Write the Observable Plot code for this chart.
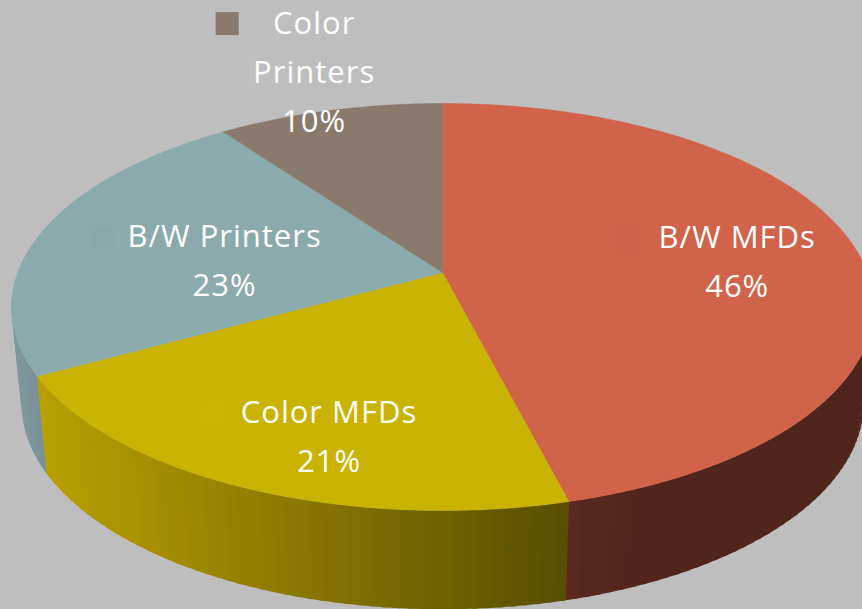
<!DOCTYPE html>
<html>
<head>
<meta charset="utf-8">
<script src="https://cdn.jsdelivr.net/npm/d3@7"></script>
<script src="https://cdn.jsdelivr.net/npm/@observablehq/plot@0.6"></script>
<style>
html,body{margin:0;padding:0;background:#bebebe;overflow:hidden}
#chart text{letter-spacing:1px}
</style>
</head>
<body>
<div id="chart"></div>
<script>
// Chart values
const categories = ["B/W MFDs", "Color MFDs", "B/W Printers", "Color Printers"];
const labelLines = ["B/W MFDs", "Color MFDs", "B/W Printers", "Color\nPrinters"];
const shares = [46, 21, 23, 10];

// Styles
const topColors = ["#d06349", "#c9b200", "#8aaaab", "#8a7a6c"];
const swatchColors = ["#cf624a", "#cbb300", "#89a8aa", "#8c796e"];
const wallRightColors = ["#50251c", "#584e00", "#7a9296", "#8a7a6c"];
const wallLeftColors = ["#5c2a20", "#b8a000", "#7e989c", "#8a7a6c"];
const wallEase = [6, 1, 1, 1];

// Label layout: radial fraction along the slice's mid angle, then a nudge, in px
const labelRadius = [0.7, 0.7, 0.7, 1.15];
const labelNudgeX = [4, 19, 65, -1];
const labelNudgeY = [1, 17, 13, -23];
const swatchOffsetX = [-110, -116, -122, -87];
const swatchOffsetY = [-18, -18, -18, -43.5];

// Perspective of the disc
const k = 0.1695;
const topFace = {a: 424.8, b: 197.7, y0: 272};
const bottomFace = {a: 415, b: 200, y0: 368};
const cx = 442;
const rad = (d) => d * Math.PI / 180;
function project(face, deg, r = 1) {
  const u = r * Math.sin(rad(deg)), v = -r * Math.cos(rad(deg));
  const den = 1 - k * v;
  return {x: cx + face.a * u / den, y: face.y0 + face.b * v / den};
}

// Slice angles from the shares
const total = d3.sum(shares);
let acc = 0;
const slices = shares.map((s, i) => {
  const start = acc / total * 360;
  acc += s;
  const end = acc / total * 360;
  return {i, start, end, mid: (start + end) / 2};
});

// Top faces
const topPoints = [];
for (const s of slices) {
  const n = Math.ceil(s.end - s.start);
  topPoints.push({...project(topFace, 0, 0), z: s.i, fill: topColors[s.i]});
  for (let j = 0; j <= n; ++j) {
    const deg = s.start + (s.end - s.start) * j / n;
    topPoints.push({...project(topFace, deg), z: s.i, fill: topColors[s.i]});
  }
  topPoints.push({...project(topFace, 0, 0), z: s.i, fill: topColors[s.i]});
}

// Side wall strips, the visible front half only; each strip overlaps the next, which paints over it
const wallFirst = 98, wallLast = 262, wallStep = 1.5, wallOverlap = 0.6;
const wallPoints = [];
let stripId = 0;
for (const s of slices) {
  const from = Math.max(s.start, wallFirst), to = Math.min(s.end, wallLast);
  if (to <= from) continue;
  const color = d3.interpolateRgb(wallRightColors[s.i], wallLeftColors[s.i]);
  const xRight = project(topFace, from).x, xLeft = project(topFace, to).x;
  const n = Math.max(1, Math.ceil((to - from) / wallStep));
  for (let j = 0; j < n; ++j) {
    const a = from + (to - from) * j / n, b = from + (to - from) * (j + 1) / n;
    const e = b + wallOverlap;
    const p = [project(topFace, a), project(topFace, e), project(bottomFace, e), project(bottomFace, a), project(topFace, a)];
    const mx = (project(topFace, a).x + project(topFace, b).x) / 2;
    const t = Math.pow((xRight - mx) / (xRight - xLeft), wallEase[s.i]);
    const fill = d3.color(color(t)).formatHex();
    for (const q of p) wallPoints.push({...q, z: stripId, fill});
    ++stripId;
  }
}

// Labels
const labels = slices.map((s) => {
  const p = project(topFace, s.mid, labelRadius[s.i]);
  const x = p.x + labelNudgeX[s.i], y = p.y + labelNudgeY[s.i];
  return {
    x, y,
    text: labelLines[s.i] + "\n" + shares[s.i] + "%",
    sx: x + swatchOffsetX[s.i],
    sy: y + swatchOffsetY[s.i],
    swatch: swatchColors[s.i],
    category: categories[s.i]
  };
});

const chart = Plot.plot({
  width: 862,
  height: 609,
  margin: 0,
  x: {domain: [0, 862], range: [0, 862], axis: null},
  y: {domain: [0, 609], range: [0, 609], axis: null},
  color: {type: "identity"},
  style: {background: "#bebebe", fontFamily: "'Open Sans', sans-serif"},
  marks: [
    Plot.line(wallPoints, {x: "x", y: "y", z: "z", fill: "fill", stroke: "none", curve: "linear"}),
    Plot.line(topPoints, {x: "x", y: "y", z: "z", fill: "fill", stroke: "fill", strokeWidth: 0.4, curve: "linear"}),
    Plot.dot(labels, {x: "sx", y: "sy", fill: "swatch", symbol: "square", r: 13}),
    Plot.text(labels, {
      x: "x", y: "y", text: "text",
      fill: "white", fontSize: 31, lineHeight: 49 / 31,
      lineAnchor: "middle", textAnchor: "middle"
    })
  ]
});
document.getElementById("chart").appendChild(chart);
</script>
</body>
</html>
